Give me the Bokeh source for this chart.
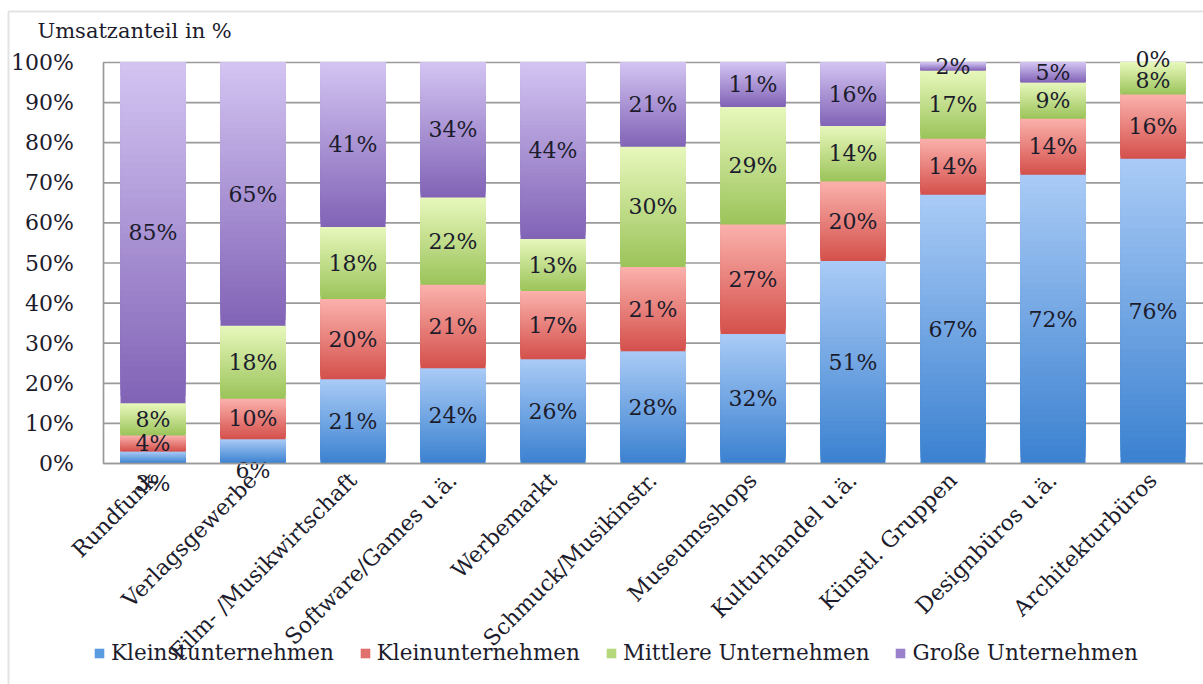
from bokeh.plotting import figure
from bokeh.models import (ColumnDataSource, FixedTicker, PrintfTickFormatter, Legend,
                          LegendItem, BoxAnnotation, Range1d, Label, LinearAxis)
from bokeh.core.properties import value
from bokeh.embed import file_html
from bokeh.resources import INLINE

# Revenue share by company size class, per cultural-industry sub-market (in %)
categories = ["Rundfunk", "Verlagsgewerbe", "Film- /Musikwirtschaft", "Software/Games u.ä.",
              "Werbemarkt", "Schmuck/Musikinstr.", "Museumsshops", "Kulturhandel u.ä.",
              "Künstl. Gruppen", "Designbüros u.ä.", "Architekturbüros"]
series_names = ["Kleinstunternehmen", "Kleinunternehmen", "Mittlere Unternehmen", "Große Unternehmen"]
kleinst = [3, 6, 21, 24, 26, 28, 32, 51, 67, 72, 76]
klein = [4, 10, 20, 21, 17, 21, 27, 20, 14, 14, 16]
mittlere = [8, 18, 18, 22, 13, 30, 29, 14, 17, 9, 8]
grosse = [85, 65, 41, 34, 44, 21, 11, 16, 2, 5, 0]
y_ticks = [0, 10, 20, 30, 40, 50, 60, 70, 80, 90, 100]
title_text = "Umsatzanteil in %"

series = [kleinst, klein, mittlere, grosse]

# (top colour, bottom colour) of the vertical gradient of each series
gradients = [("#aacbf6", "#3b81d0"),
             ("#fbb1ac", "#d4504b"),
             ("#e8f8bc", "#9bc35a"),
             ("#d3c4f2", "#8163b6")]
legend_colors = ["#5b9be0", "#e0716c", "#b6d87c", "#9b80cb"]

FONT_NAME = "DejaVu Serif"
FONT = value(FONT_NAME)
FONT_SIZE = "22px"
LEGEND_SIZE = "21.5px"
TITLE_SIZE = "21px"
TEXT_COLOR = "#1c1c2c"
GRID_COLOR = "#9a9a9a"
BORDER_COLOR = "#a3a3a3"

W, H = 1203, 684
# canvas layout: pixel position of the value origin and pixels per unit
X0_PX, PX_PER_X = 102.5, 100.0
Y0_PX, PX_PER_Y = 463.0, 4.01


def px_to_x(px):
    return (px - X0_PX) / PX_PER_X


def px_to_y(py):
    return (Y0_PX - py) / PX_PER_Y


# nudges (px, downwards) for labels that sit outside their tiny segments
label_nudge = {(0, 0): 26, (1, 0): 19, (10, 3): -3, (10, 2): 2}


def hex_to_rgb(h):
    h = h.lstrip("#")
    return tuple(int(h[i:i + 2], 16) for i in (0, 2, 4))


def mix(c_bottom, c_top, t):
    a, b = hex_to_rgb(c_bottom), hex_to_rgb(c_top)
    return "#%02x%02x%02x" % tuple(int(round(a[i] + (b[i] - a[i]) * t)) for i in range(3))


n_cat = len(categories)
centers = [i + 0.5 for i in range(n_cat)]
totals = [sum(s[i] for s in series) for i in range(n_cat)]

p = figure(width=W, height=H,
           x_range=Range1d(px_to_x(0), px_to_x(W)), y_range=Range1d(px_to_y(H), px_to_y(0)),
           x_axis_location=None, y_axis_location=None,
           output_backend="svg", toolbar_location=None,
           min_border=0, min_border_left=0, min_border_right=0, min_border_top=0, min_border_bottom=0,
           background_fill_color="white", border_fill_color="white", outline_line_color=None)
p.xgrid.visible = False
p.ygrid.visible = False

# horizontal grid lines at the value ticks
p.segment(x0=[0] * len(y_ticks), x1=[n_cat] * len(y_ticks), y0=y_ticks, y1=y_ticks,
          line_color=GRID_COLOR, line_width=1.7)

# stacked (100 %) segments, each filled with a light-to-dark vertical gradient:
# overlapping layers, every layer reaching up to the top of its segment
STRIPS = 48
strips = {"x": [], "bottom": [], "top": [], "color": []}
labels = {"x": [], "y": [], "text": [], "dy": []}
base = [0.0] * n_cat
for si, vals in enumerate(series):
    c_top, c_bot = gradients[si]
    for ci in range(n_cat):
        share = vals[ci] / totals[ci] * 100.0
        b0, b1 = base[ci], base[ci] + share
        if share > 0:
            for k in range(STRIPS):
                strips["x"].append(centers[ci])
                strips["bottom"].append(b0 + share * k / STRIPS)
                strips["top"].append(b1)
                strips["color"].append(mix(c_bot, c_top, (k + 0.5) / STRIPS))
        labels["x"].append(centers[ci])
        labels["y"].append((b0 + b1) / 2)
        labels["text"].append(f"{vals[ci]}%")
        labels["dy"].append(label_nudge.get((ci, si), 0))
        base[ci] = b1

p.vbar(x="x", bottom="bottom", top="top", width=0.65, source=ColumnDataSource(strips),
       fill_color="color", line_color=None)

p.text(x="x", y="y", text="text", y_offset="dy", source=ColumnDataSource(labels),
       text_font=FONT, text_font_size=FONT_SIZE, text_color=TEXT_COLOR,
       text_align="center", text_baseline="middle")

# axes, pinned to the value origin
yaxis = LinearAxis(fixed_location=0, bounds=(0, 100), ticker=FixedTicker(ticks=y_ticks),
                   formatter=PrintfTickFormatter(format="%d%%"))
xaxis = LinearAxis(fixed_location=0, bounds=(0, n_cat), ticker=FixedTicker(ticks=centers),
                   major_label_overrides={c: name for c, name in zip(centers, categories)})
for ax in (xaxis, yaxis):
    ax.axis_line_color = GRID_COLOR
    ax.axis_line_width = 1.7
    ax.major_tick_line_color = None
    ax.minor_tick_line_color = None
    ax.major_label_text_font = FONT_NAME
    ax.major_label_text_font_size = FONT_SIZE
    ax.major_label_text_color = TEXT_COLOR
yaxis.major_label_standoff = 23
xaxis.major_label_orientation = 0.785398
xaxis.major_label_standoff = 7
p.add_layout(yaxis, "left")
p.add_layout(xaxis, "below")

# legend proxies (one bar each, placed far outside the visible ranges)
items = []
for name, col in zip(series_names, legend_colors):
    r = p.vbar(x=[-1000], bottom=[-1000], top=[-999], width=0.5, fill_color=col, line_color=None)
    items.append(LegendItem(label=name, renderers=[r]))
legend = Legend(items=items, orientation="horizontal", location=(93, 19),
                label_text_font=FONT_NAME, label_text_font_size=LEGEND_SIZE, label_text_color=TEXT_COLOR,
                glyph_width=12, glyph_height=12, label_standoff=6, spacing=25,
                padding=0, margin=0, border_line_color=None, background_fill_alpha=0)
p.add_layout(legend, "center")

p.add_layout(Label(x=px_to_x(37), y=px_to_y(30), text=title_text,
                   text_font=FONT_NAME, text_font_size=TITLE_SIZE, text_color=TEXT_COLOR,
                   text_baseline="middle"))

# outer chart frame
p.add_layout(BoxAnnotation(left=px_to_x(8), right=px_to_x(W + 20), top=px_to_y(11), bottom=px_to_y(H + 20),
                           fill_alpha=0, line_color=BORDER_COLOR, line_width=2))

open("out.html", "w").write(file_html(p, INLINE))
